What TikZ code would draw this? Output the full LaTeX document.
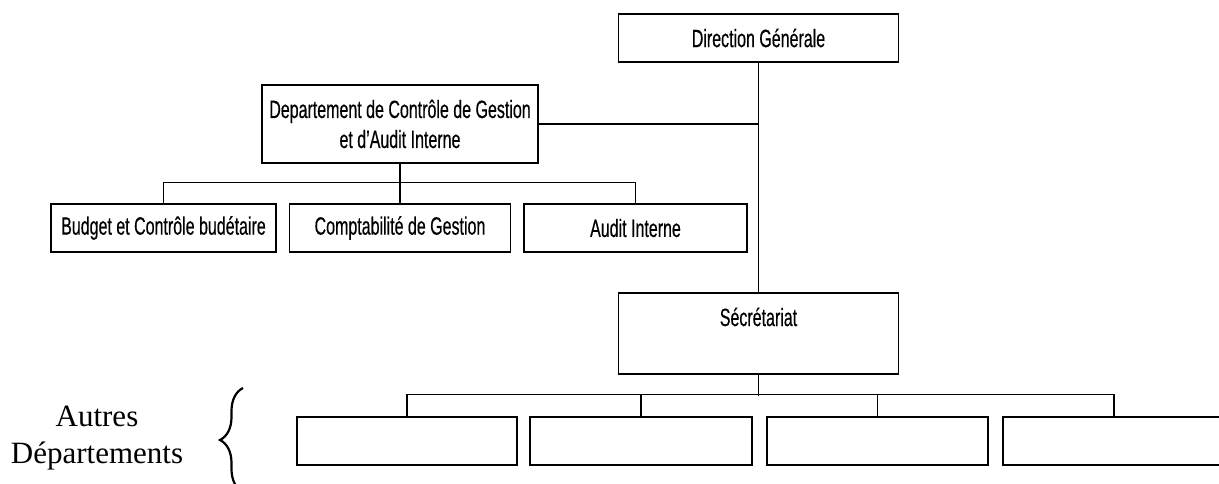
\documentclass[tikz,border=0pt]{standalone}
\usepackage{fontspec}
\setmainfont{Liberation Sans}[FakeStretch=0.64, FakeBold=0.4]
\newfontfamily\seriffont{Liberation Serif}
\usetikzlibrary{positioning,decorations.pathreplacing}

\tikzset{
  box/.style={draw, line width=1.1pt, inner sep=0pt, align=center,
    font=\fontsize{25}{30}\selectfont, minimum height=48pt},
  link/.style={line width=1.1pt}
}

\begin{document}
\begin{tikzpicture}[x=1pt, y=-1pt]
      \fill[white] (0,0) rectangle (1219,483);
      \useasboundingbox (0,0) rectangle (1219,483);

      \node[box, minimum width=280pt] (DG) at (758.5,38) {Direction Générale};

      \node[box, minimum width=276pt, minimum height=78pt] (DCG) at (400,124)
            {Departement de Contrôle de Gestion\\et d'Audit Interne};
      \node[box, minimum width=225pt] (Budget) at (163.5,228) {Budget et Contrôle budétaire};
      \node[box, minimum width=221pt] (Compta) at (400,228) {Comptabilité de Gestion};
      \node[box, minimum width=223pt] (Audit)  at (635.5,228) {Audit Interne};

      \node[box, minimum width=280pt, minimum height=81pt,
            text height=18pt, text depth=33pt] (Secr) at (758.5,333.5) {Sécrétariat};

      \node[box, minimum width=220pt] (Dep1) at (407,441) {};
      \node[box, minimum width=222pt] (Dep2) at (641,441) {};
      \node[box, minimum width=221pt] (Dep3) at (877.5,441) {};
      \node[box, minimum width=222pt] (Dep4) at (1114,441) {};

      \node[font=\seriffont\fontsize{31}{37}\selectfont, align=center] (Autres) at (97,438)
            {Autres\\Départements};
      \draw[line width=2.2pt, decorate, decoration={brace, amplitude=23pt}]
            (243,492) -- (243,388);

      \draw[link] (DG) -- (Secr);
      \draw[link] (DCG.east) -- (DCG.east -| DG.south);

      \draw[link] (DCG) -- (Compta);
      \draw[link] (Budget.north) -- ++(0,-21) -| (Audit.north);

      \draw[link] (Secr.south) -- ++(0,21);
      \draw[link] (Dep1.north) -- ++(0,-22) -| (Dep4.north);
      \draw[link] (Dep2.north) -- ++(0,-22);
      \draw[link] (Dep3.north) -- ++(0,-22);

    \end{tikzpicture}
\end{document}
